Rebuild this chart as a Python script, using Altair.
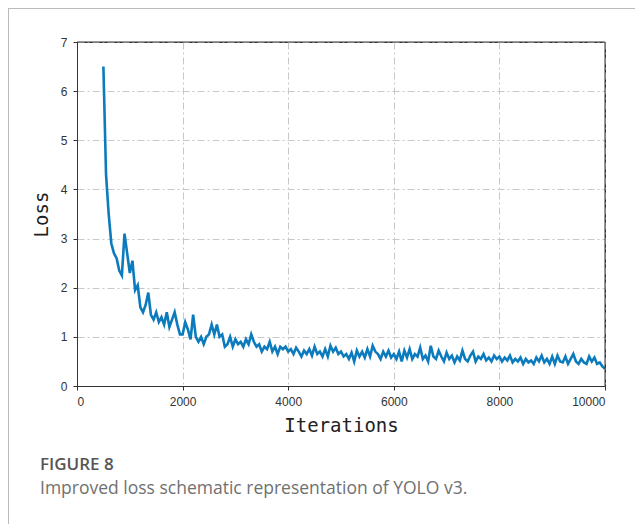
import altair as alt
import pandas as pd

iterations = list(range(500, 10001, 50))
loss = [
    6.5, 4.3, 3.5, 2.9, 2.7, 2.6, 2.35, 2.25, 3.1, 2.7,
    2.3, 2.55, 1.95, 2.05, 1.6, 1.5, 1.65, 1.9, 1.45, 1.35,
    1.5, 1.3, 1.4, 1.25, 1.5, 1.2, 1.35, 1.5, 1.25, 1.05,
    1.05, 1.3, 1.15, 0.95, 1.45, 1.0, 0.9, 1.0, 0.85, 1.0,
    1.05, 1.25, 1.05, 1.25, 1.0, 1.05, 0.8, 0.85, 1.0, 0.8,
    0.95, 0.85, 0.9, 0.8, 0.95, 0.85, 1.05, 0.9, 0.8, 0.85,
    0.7, 0.8, 0.75, 0.9, 0.7, 0.8, 0.65, 0.8, 0.75, 0.8,
    0.7, 0.75, 0.65, 0.78, 0.7, 0.6, 0.72, 0.65, 0.75, 0.62,
    0.8, 0.65, 0.7, 0.6, 0.75, 0.6, 0.82, 0.7, 0.78, 0.65,
    0.7, 0.6, 0.65, 0.55, 0.68, 0.5, 0.72, 0.6, 0.7, 0.58,
    0.75, 0.6, 0.82, 0.7, 0.65, 0.55, 0.7, 0.6, 0.72, 0.58,
    0.65, 0.55, 0.7, 0.5, 0.72, 0.58, 0.75, 0.55, 0.65, 0.6,
    0.78, 0.55, 0.62, 0.5, 0.82, 0.6, 0.55, 0.72, 0.6, 0.5,
    0.68, 0.55, 0.62, 0.48, 0.6, 0.52, 0.72, 0.55, 0.5, 0.62,
    0.7, 0.5, 0.6, 0.55, 0.65, 0.52, 0.58, 0.5, 0.62, 0.55,
    0.6, 0.5, 0.58, 0.52, 0.62, 0.48, 0.55, 0.5, 0.58, 0.45,
    0.55, 0.48, 0.52, 0.45, 0.58, 0.5, 0.62, 0.48, 0.55, 0.45,
    0.6, 0.45, 0.62, 0.5, 0.48, 0.6, 0.45, 0.55, 0.65, 0.5,
    0.45, 0.55, 0.48, 0.45, 0.6, 0.5, 0.58, 0.45, 0.48, 0.4,
    0.35,
]
x_ticks = [0, 2000, 4000, 6000, 8000, 10000]
y_ticks = [0, 1, 2, 3, 4, 5, 6, 7]
fig_label = "FIGURE 8"
caption = "Improved loss schematic representation of YOLO v3."

df = pd.DataFrame({"Iterations": iterations, "Loss": loss})
one = pd.DataFrame({"k": [0]})

W, H = 528, 344

grid_kw = dict(grid=True, gridColor="#c8c8c8", gridDash=[7, 3, 2, 3], gridWidth=1,
               domainColor="#333", tickColor="#333", tickSize=4,
               labelFont="Liberation Sans", labelFontSize=12, labelColor="#333",
               titleFont="DejaVu Sans Mono", titleFontSize=19, titleFontWeight="normal",
               titleColor="#222")

line = alt.Chart(df).mark_line(color="#0b7bbd", strokeWidth=2.6).encode(
    x=alt.X(
        "Iterations:Q",
        scale=alt.Scale(domain=[0, 10000], nice=False),
        axis=alt.Axis(values=x_ticks, title="Iterations", format="d",
                      labelPadding=6, titlePadding=9, **grid_kw),
    ),
    y=alt.Y(
        "Loss:Q",
        scale=alt.Scale(domain=[0, 7], nice=False),
        axis=alt.Axis(values=y_ticks, title="Loss",
                      labelPadding=6, titlePadding=9, **grid_kw),
    ),
)

fig_text = alt.Chart(one).mark_text(
    align="left", baseline="alphabetic", font="Open Sans", fontSize=17,
    fontWeight=600, color="#555555", clip=False,
).encode(x=alt.value(-37), y=alt.value(428), text=alt.value(fig_label))

cap_text = alt.Chart(one).mark_text(
    align="left", baseline="alphabetic", font="Open Sans", fontSize=17.5,
    color="#707070", clip=False,
).encode(x=alt.value(-37), y=alt.value(452), text=alt.value(caption))

frame_top = alt.Chart(one).mark_rule(color="#333", strokeWidth=1, clip=False).encode(
    x=alt.value(0), x2=alt.value(W), y=alt.value(0)
)
frame_right = alt.Chart(one).mark_rule(color="#333", strokeWidth=1, clip=False).encode(
    x=alt.value(W), y=alt.value(0), y2=alt.value(H)
)

border_top = alt.Chart(one).mark_rule(color="#bbbbbb", strokeWidth=1, clip=False).encode(
    x=alt.value(-69), x2=alt.value(W + 40), y=alt.value(-33.5)
)
border_left = alt.Chart(one).mark_rule(color="#bbbbbb", strokeWidth=1, clip=False).encode(
    x=alt.value(-68.5), y=alt.value(-34), y2=alt.value(H + 140)
)

chart = alt.layer(line, frame_top, frame_right, fig_text, cap_text,
                  border_top, border_left).properties(
    width=W, height=H,
    autosize=alt.AutoSizeParams(type="none"),
    padding={"left": 69, "top": 34, "right": 30, "bottom": 138},
).configure_view(stroke="#333", strokeWidth=1)

chart.save("out.html", embed_options={"renderer": "svg", "actions": False})
